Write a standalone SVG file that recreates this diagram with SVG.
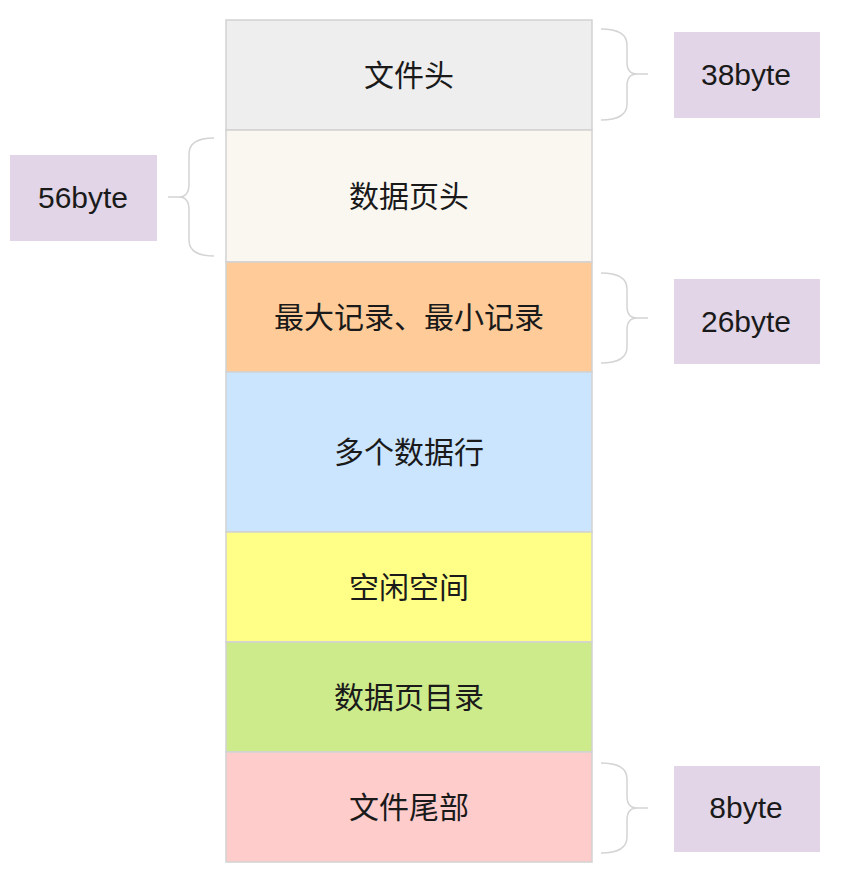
<svg xmlns="http://www.w3.org/2000/svg" width="850" height="872" viewBox="0 0 850 872">
<style>
.blk{stroke:#d2d2d2;stroke-width:1.5}
.lbl{fill:#e1d5e7}
.cn{font-family:"Noto Sans CJK SC","Noto Sans",sans-serif;font-size:30px;fill:#1a1a1a;text-anchor:middle;dominant-baseline:central}
.en{font-family:"Liberation Sans",Arial,sans-serif;font-size:30px;fill:#1a1a1a;text-anchor:middle;dominant-baseline:central}
.br{fill:none;stroke:#d4d4d4;stroke-width:1.5}
</style>
<rect width="850" height="872" fill="#ffffff"/>
<g id="file-header"><rect class="blk" x="226" y="20" width="366" height="110" fill="#eeeeee"/><text class="cn" x="409" y="73">文件头</text></g>
<g id="page-header"><rect class="blk" x="226" y="130" width="366" height="132" fill="#f9f7f0"/><text class="cn" x="409" y="194">数据页头</text></g>
<g id="infimum-supremum"><rect class="blk" x="226" y="262" width="366" height="110" fill="#ffcc99"/><text class="cn" x="409" y="315">最大记录、最小记录</text></g>
<g id="user-records"><rect class="blk" x="226" y="372" width="366" height="160" fill="#cce5ff"/><text class="cn" x="409" y="450">多个数据行</text></g>
<g id="free-space"><rect class="blk" x="226" y="532" width="366" height="110" fill="#ffff88"/><text class="cn" x="409" y="585">空闲空间</text></g>
<g id="page-directory"><rect class="blk" x="226" y="642" width="366" height="110" fill="#cdeb8b"/><text class="cn" x="409" y="695">数据页目录</text></g>
<g id="file-trailer"><rect class="blk" x="226" y="752" width="366" height="110" fill="#ffcccc"/><text class="cn" x="409" y="805">文件尾部</text></g>
<g id="label-38"><rect class="lbl" x="674" y="32" width="146" height="86"/><text class="en" x="746" y="74">38byte</text></g>
<g id="label-56"><rect class="lbl" x="10" y="155" width="147" height="86"/><text class="en" x="83" y="197">56byte</text></g>
<g id="label-26"><rect class="lbl" x="674" y="279" width="146" height="85"/><text class="en" x="746" y="321">26byte</text></g>
<g id="label-8"><rect class="lbl" x="674" y="766" width="146" height="86"/><text class="en" x="746" y="807">8byte</text></g>
<g id="connectors">
<path class="br" d="M601,29 Q627,29 627,45 L627,62 Q627,74 637,74 L648,74 M637,74 Q627,74 627,86 L627,104 Q627,120 601,120"/>
<path class="br" d="M214,138 Q189,138 189,154 L189,184 Q189,197 179,197 L168,197 M179,197 Q189,197 189,210 L189,240 Q189,256 214,256"/>
<path class="br" d="M601,273 Q627,273 627,289 L627,306 Q627,318 637,318 L648,318 M637,318 Q627,318 627,330 L627,347 Q627,363 601,363"/>
<path class="br" d="M601,763 Q627,763 627,779 L627,796 Q627,808 637,808 L648,808 M637,808 Q627,808 627,820 L627,837 Q627,853 601,853"/>
</g>
</svg>
